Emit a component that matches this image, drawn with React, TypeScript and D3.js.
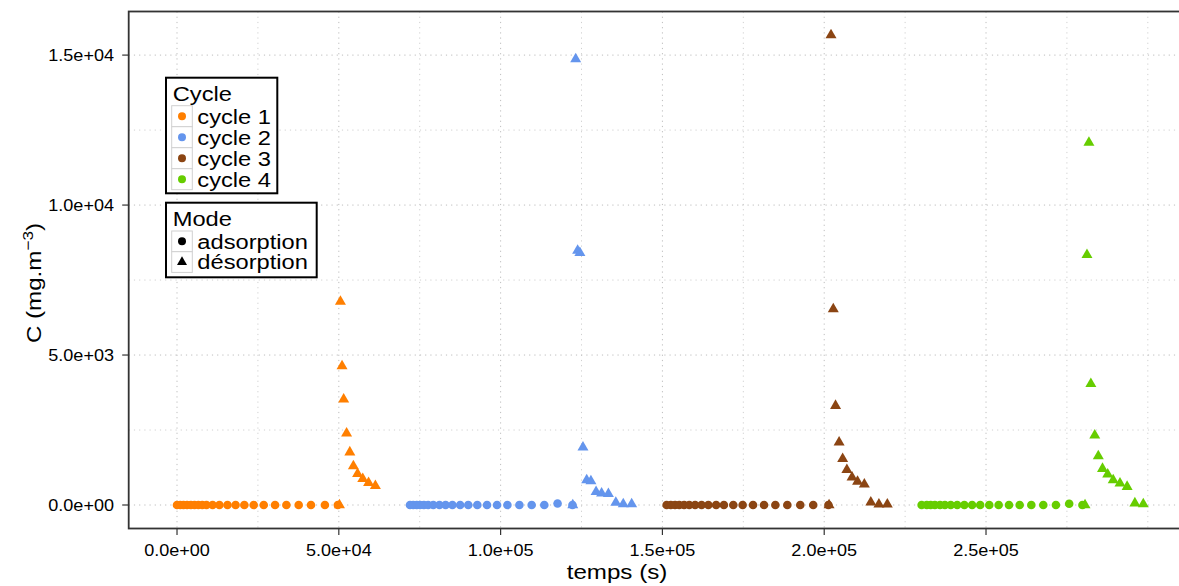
import React from "react";
import * as d3 from "d3";

// ---------- data ----------
const CYCLES = ["cycle 1", "cycle 2", "cycle 3", "cycle 4"];
const CYCLE_COLORS = ["#FF7F00", "#6495ED", "#8B4513", "#66CD00"];
const MODES = ["adsorption", "désorption"];

const ADS_T1 = [0, 1000, 2000, 3100, 4300, 5400, 6600, 7800, 9100, 11000, 13100, 15600, 18100, 20800, 23700, 26800, 30300, 33800, 37600, 41400, 45700, 49700];
const ADS_C1 = [0, 0, 0, 0, 0, 0, 0, 0, 0, 0, 0, 0, 0, 0, 0, 0, 0, 0, 0, 0, 0, 0];
const ADS_T2 = [72000, 73000, 74100, 75100, 76300, 77600, 79200, 81100, 83000, 85100, 87500, 90000, 92800, 95800, 98900, 102100, 105800, 109600, 113500, 117600, 122200];
const ADS_C2 = [0, 0, 0, 0, 0, 0, 0, 0, 0, 0, 0, 0, 0, 0, 0, 0, 0, 0, 0, 50, 0];
const ADS_T3 = [151300, 152600, 153900, 155200, 156700, 158300, 160100, 162100, 164200, 166600, 169000, 171900, 174800, 178000, 181400, 184900, 188600, 192600, 196600, 201300];
const ADS_C3 = [0, 0, 0, 0, 0, 0, 0, 0, 0, 0, 0, 0, 0, 0, 0, 0, 0, 0, 0, 0];
const ADS_T4 = [230100, 231700, 232900, 234200, 235800, 237300, 239100, 241100, 243300, 245700, 248200, 251000, 253900, 257100, 260400, 264000, 267700, 271600, 275700, 279800];
const ADS_C4 = [0, 0, 0, 0, 0, 0, 0, 0, 0, 0, 0, 0, 0, 0, 0, 0, 0, 0, 40, 0];

const DES_T1 = [50200, 50500, 51000, 51500, 52400, 53400, 54500, 55800, 57400, 59200, 61300];
const DES_C1 = [0, 6780, 4630, 3520, 2390, 1760, 1300, 1040, 870, 740, 640];
const DES_T2 = [122300, 123200, 123800, 124500, 125450, 126600, 127900, 129500, 131200, 133300, 135600, 137900, 140500];
const DES_C2 = [0, 14870, 8480, 8410, 1920, 830, 800, 440, 390, 370, 80, 30, 30];
const DES_T3 = [201500, 202100, 202800, 203500, 204600, 205700, 207000, 208600, 210300, 212400, 214400, 216900, 219500];
const DES_C3 = [0, 15670, 6530, 3310, 2090, 1540, 1170, 920, 780, 690, 90, 20, 20];
const DES_T4 = [280600, 281200, 281800, 282400, 283600, 284700, 286000, 287600, 289300, 291400, 293600, 296000, 298600];
const DES_C4 = [0, 8340, 12080, 4040, 2320, 1630, 1210, 1020, 830, 720, 610, 60, 30];

const X_TICKS = [0, 50000, 100000, 150000, 200000, 250000];
const X_TICK_LABELS = ["0.0e+00", "5.0e+04", "1.0e+05", "1.5e+05", "2.0e+05", "2.5e+05"];
const X_MINOR = [25000, 75000, 125000, 175000, 225000, 275000, 300000];
const Y_TICKS = [0, 5000, 10000, 15000];
const Y_TICK_LABELS = ["0.0e+00", "5.0e+03", "1.0e+04", "1.5e+04"];
const Y_MINOR = [2500, 7500, 12500];

// ---------- layout ----------
const W = 1179;
const H = 586;
const P_LEFT = 128.7;
const P_RIGHT = 1191.6;
const P_TOP = 11.5;
const P_BOTTOM = 528.5;
const FONT = "'Liberation Sans', Arial, Helvetica, sans-serif";
const SX = 1.15;

const ADS = [
  [ADS_T1, ADS_C1],
  [ADS_T2, ADS_C2],
  [ADS_T3, ADS_C3],
  [ADS_T4, ADS_C4],
];
const DES = [
  [DES_T1, DES_C1],
  [DES_T2, DES_C2],
  [DES_T3, DES_C3],
  [DES_T4, DES_C4],
];

function triPath(cx: number, cy: number, side: number) {
  const xc = side / 2;
  const r = (xc / 1.34677368708859836) * 1.55512030155621416;
  const yc = r / 2;
  return `M${cx},${cy - r}L${cx + xc},${cy + yc}L${cx - xc},${cy + yc}Z`;
}

function SText(props: any) {
  const { x, y, anchor = "start", size, rotate = 0, children, fill = "#000" } = props;
  return (
    <text
      transform={`translate(${x},${y}) rotate(${rotate}) scale(${SX},1)`}
      textAnchor={anchor}
      fontSize={size}
      fontFamily={FONT}
      fill={fill}
    >
      {children}
    </text>
  );
}

export default function App() {
  const allT = [...ADS, ...DES].flatMap((s) => s[0]);
  const allC = [...ADS, ...DES].flatMap((s) => s[1]);
  const [tMin, tMax] = d3.extent(allT) as [number, number];
  const [cMin, cMax] = d3.extent(allC) as [number, number];
  const tPad = (tMax - tMin) * 0.05;
  const cPad = (cMax - cMin) * 0.05;

  const x = d3.scaleLinear().domain([tMin - tPad, tMax + tPad]).range([P_LEFT, P_RIGHT]);
  const y = d3.scaleLinear().domain([cMin - cPad, cMax + cPad]).range([P_BOTTOM, P_TOP]);

  const gridStyle = { stroke: "#bdbdbd", strokeWidth: 1, strokeDasharray: "1.2,4" };
  const minorStyle = { stroke: "#d0d0d0", strokeWidth: 1, strokeDasharray: "1.2,4" };

  const keyW = 20.6;
  const rowH = 21;
  const legX = 166;

  return (
    <svg width={W} height={H} style={{ position: "absolute", left: 0, top: 0, background: "#fff" }}>
      <defs>
        <clipPath id="panel">
          <rect x={P_LEFT} y={P_TOP} width={P_RIGHT - P_LEFT} height={P_BOTTOM - P_TOP} />
        </clipPath>
      </defs>
      <rect x={0} y={0} width={W} height={H} fill="#fff" />
      {/* grid */}
      <g clipPath="url(#panel)">
        {Y_MINOR.map((v) => (
          <line key={"ym" + v} x1={P_LEFT} x2={P_RIGHT} y1={y(v)} y2={y(v)} {...minorStyle} />
        ))}
        {X_MINOR.map((v) => (
          <line key={"xm" + v} y1={P_TOP} y2={P_BOTTOM} x1={x(v)} x2={x(v)} {...minorStyle} />
        ))}
        {Y_TICKS.map((v) => (
          <line key={"yg" + v} x1={P_LEFT} x2={P_RIGHT} y1={y(v)} y2={y(v)} {...gridStyle} />
        ))}
        {X_TICKS.map((v) => (
          <line key={"xg" + v} y1={P_TOP} y2={P_BOTTOM} x1={x(v)} x2={x(v)} {...gridStyle} />
        ))}
        {/* points */}
        {ADS.map(([ts, cs], i) =>
          ts.map((t, j) => (
            <circle key={`a${i}-${j}`} cx={x(t)} cy={y(cs[j])} r={4.3} fill={CYCLE_COLORS[i]} />
          ))
        )}
        {DES.map(([ts, cs], i) =>
          ts.map((t, j) => (
            <path key={`d${i}-${j}`} d={triPath(x(t), y(cs[j]), 11)} fill={CYCLE_COLORS[i]} />
          ))
        )}
      </g>
      {/* panel border */}
      <rect
        x={P_LEFT}
        y={P_TOP}
        width={P_RIGHT - P_LEFT}
        height={P_BOTTOM - P_TOP}
        fill="none"
        stroke="#333"
        strokeWidth={1.8}
      />
      {/* y axis */}
      {Y_TICKS.map((v, i) => (
        <g key={"yt" + v}>
          <line x1={P_LEFT - 6.5} x2={P_LEFT} y1={y(v)} y2={y(v)} stroke="#333" strokeWidth={1.2} />
          <SText x={114} y={y(v) + 5.6} anchor="end" size={15.7}>
            {Y_TICK_LABELS[i]}
          </SText>
        </g>
      ))}
      {/* x axis */}
      {X_TICKS.map((v, i) => (
        <g key={"xt" + v}>
          <line x1={x(v)} x2={x(v)} y1={P_BOTTOM} y2={P_BOTTOM + 6.5} stroke="#333" strokeWidth={1.2} />
          <SText x={x(v)} y={556} anchor="middle" size={15.7}>
            {X_TICK_LABELS[i]}
          </SText>
        </g>
      ))}
      {/* axis titles */}
      <SText x={617} y={579} anchor="middle" size={21}>
        temps (s)
      </SText>
      <SText x={41} y={283} anchor="middle" size={21} rotate={-90}>
        C (mg.m
        <tspan dy={-8} fontSize={15}>
          −3
        </tspan>
        <tspan dy={8}>)</tspan>
      </SText>

      {/* legend: Cycle */}
      <rect x={legX} y={77.7} width={111.3} height={115.6} fill="#fff" stroke="#000" strokeWidth={2} />
      <SText x={172.7} y={101} size={20.6}>
        Cycle
      </SText>
      {CYCLES.map((c, i) => {
        const ky = 105.7 + i * rowH;
        return (
          <g key={c}>
            <rect x={171.7} y={ky} width={keyW} height={rowH} fill="#fff" stroke="#d0d0d0" strokeWidth={1} />
            <circle cx={171.7 + keyW / 2} cy={ky + rowH / 2} r={4} fill={CYCLE_COLORS[i]} />
            <SText x={197.3} y={ky + rowH / 2 + 7.3} size={20.6}>
              {c}
            </SText>
          </g>
        );
      })}

      {/* legend: Mode */}
      <rect x={legX} y={202.7} width={150.7} height={74.6} fill="#fff" stroke="#000" strokeWidth={2} />
      <SText x={172.7} y={225.5} size={20.6}>
        Mode
      </SText>
      {MODES.map((m, i) => {
        const ky = 231 + i * 20.7;
        const cx = 171.7 + keyW / 2;
        const cy = ky + 20.7 / 2;
        return (
          <g key={m}>
            <rect x={171.7} y={ky} width={keyW} height={20.7} fill="#fff" stroke="#d0d0d0" strokeWidth={1} />
            {i === 0 ? (
              <circle cx={cx} cy={cy} r={4} fill="#000" />
            ) : (
              <path d={triPath(cx, cy, 10)} fill="#000" />
            )}
            <SText x={197.3} y={cy + 7.3} size={20.6}>
              {m}
            </SText>
          </g>
        );
      })}
    </svg>
  );
}
